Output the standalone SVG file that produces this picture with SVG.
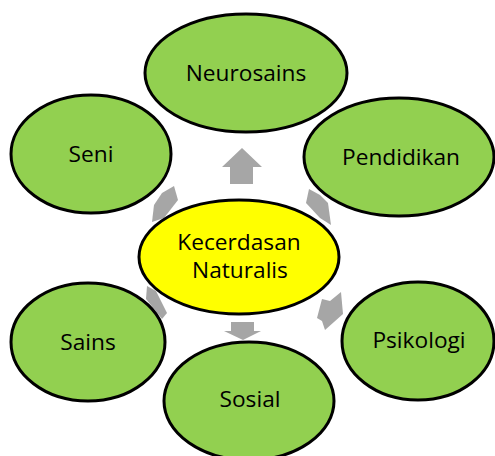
<svg xmlns="http://www.w3.org/2000/svg" width="495" height="456" viewBox="0 0 495 456">
<style>
.n{fill:#92d050;stroke:#000;stroke-width:3}
.c{fill:#ffff00;stroke:#000;stroke-width:3}
.a{fill:#a6a6a6;stroke:none}
text{font-family:"Open Sans","Noto Sans",sans-serif;font-size:22.7px;fill:#000;text-anchor:middle}
</style>
<rect width="495" height="456" fill="#fff"/>
<g id="connectors">
<polygon class="a" points="242,148 262,167 253,167 253,184 230,184 230,167 222,167"/>
<polygon class="a" points="231,322 254,322 254,331 261,331 243,340 224,331 231,331"/>
<polygon class="a" points="174,186 178,200 164,218 152,222 154,205 162,193"/>
<polygon class="a" points="309,189 320,195 328,203 331,225 320,218 306,203"/>
<polygon class="a" points="341,292 343,314 325,330 322,321 317,318 322,299 330,301"/>
<polygon class="a" points="147,286 156,291 167,313 162,319 146,299"/>
</g>
<g id="neurosains"><ellipse class="n" cx="246" cy="73" rx="101" ry="59"/><text x="246" y="81">Neurosains</text></g>
<g id="seni"><ellipse class="n" cx="91" cy="154" rx="80" ry="59"/><text x="91" y="162">Seni</text></g>
<g id="pendidikan"><ellipse class="n" cx="399" cy="157" rx="95" ry="59"/><text x="401" y="165">Pendidikan</text></g>
<g id="sains"><ellipse class="n" cx="88" cy="342" rx="77" ry="59"/><text x="88" y="350">Sains</text></g>
<g id="psikologi"><ellipse class="n" cx="418" cy="341" rx="76" ry="59"/><text x="419" y="348">Psikologi</text></g>
<g id="sosial"><ellipse class="n" cx="249" cy="401" rx="85" ry="59"/><text x="250" y="407">Sosial</text></g>
<g id="center"><ellipse class="c" cx="239" cy="257" rx="100" ry="57"/><text x="239" y="250">Kecerdasan</text><text x="240" y="278">Naturalis</text></g>
</svg>
